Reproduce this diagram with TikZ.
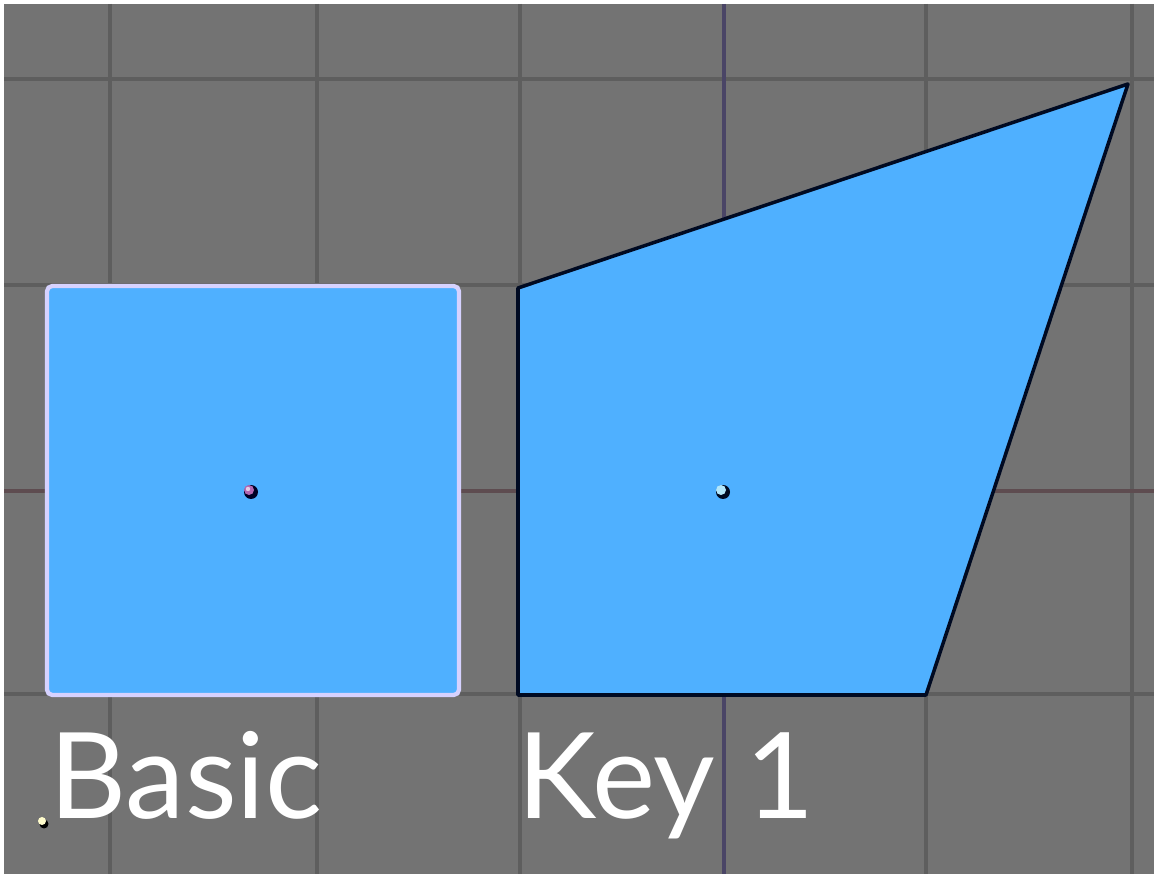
\documentclass[tikz,border=0pt]{standalone}
\usepackage{fontspec}
\setmainfont{Lato}
\definecolor{bg}{HTML}{737373}
\definecolor{gridc}{HTML}{5E5E5E}
\definecolor{xaxis}{HTML}{5E4C50}
\definecolor{yaxis}{HTML}{4A4566}
\definecolor{facefill}{HTML}{4FB0FF}
\definecolor{selEdge}{HTML}{D6D2FF}
\definecolor{keyEdge}{HTML}{000A22}
\tikzset{
  gridline/.style={draw=gridc, line width=2pt},
  face/.style={fill=facefill},
  label/.style={text=white, anchor=base west, inner sep=0pt, font=\fontsize{68}{68}\selectfont},
}
\begin{document}
\begin{tikzpicture}[x=0.02cm, y=-0.02cm]
\useasboundingbox (0,0) rectangle (1154,874);
\fill[white] (0,0) rectangle (1154,874);
\fill[bg] (4,4) rectangle (1154,874);
% grid
\foreach \gx in {110,317,520,926,1132} \draw[gridline] (\gx,4) -- (\gx,874);
\foreach \gy in {79,285,694} \draw[gridline] (4,\gy) -- (1154,\gy);
\draw[draw=xaxis, line width=2pt] (4,491) -- (1154,491);
\draw[draw=yaxis, line width=2.2pt] (724,4) -- (724,874);
% Basic square
\draw[face, draw=selEdge, line width=2.4pt, rounded corners=3pt] (47,286) rectangle (459,695);
% Key 1 quad
\draw[face, draw=keyEdge, line width=2pt, line join=round] (518,288) -- (1128,84) -- (926,695) -- (518,695) -- cycle;
% center dots
\fill[black!85!blue] (251,492) circle[radius=7];
\fill[violet!60!white] (249,490) circle[radius=5];
\fill[white!80!violet] (248,489) circle[radius=2.2];
\fill[keyEdge] (723,492) circle[radius=7];
\fill[cyan!30!white] (721,490) circle[radius=5];
\fill[black] (44,824) circle[radius=4.5];
\fill[yellow!20!white] (42,821) circle[radius=4];
% labels
\node[label] (basic) at (49,819) {Basic};
\node[label] (key) at (517,819) {Key 1};
\end{tikzpicture}
\end{document}
